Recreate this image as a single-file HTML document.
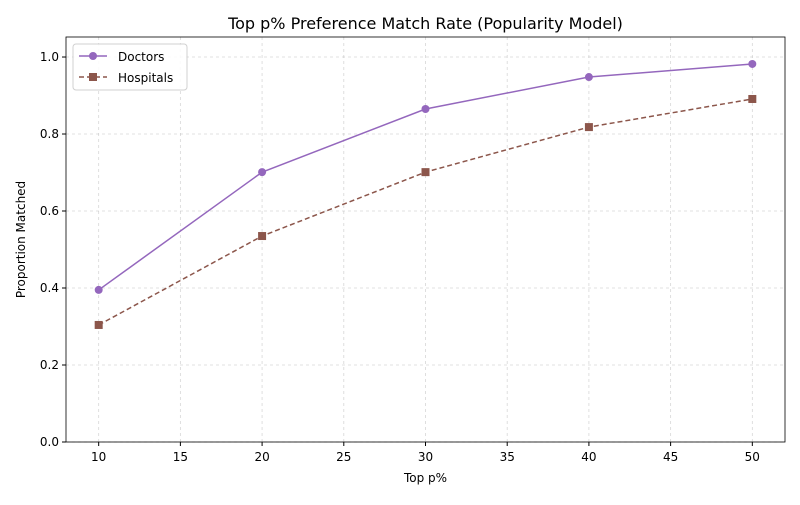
<!DOCTYPE html>
<html><head><meta charset="utf-8"><style>
body{margin:0;background:#fff;font-family:"Liberation Sans","DejaVu Sans",sans-serif}
svg text{font-family:"DejaVu Sans","Liberation Sans",sans-serif}
</style></head><body>
<svg id="chart" width="800" height="500" xmlns="http://www.w3.org/2000/svg"></svg>
<script>
const categories=[10,20,30,40,50];
const doctors=[0.395,0.701,0.865,0.948,0.982];
const hospitals=[0.304,0.535,0.701,0.818,0.891];
const xTicks=[10,15,20,25,30,35,40,45,50];
const yTicks=[0.0,0.2,0.4,0.6,0.8,1.0];
const L=66,R=785,T=37,B=442,xmin=8,xmax=52,ymin=0,ymax=1.052;
const sx=v=>L+(v-xmin)/(xmax-xmin)*(R-L);
const sy=v=>B-(v-ymin)/(ymax-ymin)*(B-T);
const svg=document.getElementById('chart');
const NS='http://www.w3.org/2000/svg';
function mk(tag,attrs,parent){const e=document.createElementNS(NS,tag);for(const k in attrs)e.setAttribute(k,attrs[k]);(parent||svg).appendChild(e);return e;}
function txt(s,attrs){const e=mk('text',attrs);e.textContent=s;return e;}
// grid
xTicks.forEach(v=>{const g=mk('line',{x1:sx(v),x2:sx(v),y1:T,y2:B,stroke:'#b0b0b0','stroke-width':0.8,'stroke-dasharray':'3,3',opacity:0.5});

});
yTicks.forEach(v=>{const g=mk('line',{x1:L,x2:R,y1:sy(v),y2:sy(v),stroke:'#b0b0b0','stroke-width':0.8,'stroke-dasharray':'3,3',opacity:0.5});

});
// ticks
xTicks.forEach(v=>{mk('line',{x1:sx(v),x2:sx(v),y1:B,y2:B+4,stroke:'#000'});
const t=txt(String(v),{x:sx(v),y:B+19,'text-anchor':'middle','font-size':12});

});
yTicks.forEach(v=>{mk('line',{x1:L-4,x2:L,y1:sy(v),y2:sy(v),stroke:'#000'});
const t=txt(v.toFixed(1),{x:L-7,y:sy(v)+4,'text-anchor':'end','font-size':12});

});
// series
function series(vals,color,dash,marker,name){
const pts=vals.map((v,i)=>sx(categories[i])+','+sy(v)).join(' ');
const pl=mk('polyline',{points:pts,fill:'none',stroke:color,'stroke-width':1.5,'stroke-dasharray':dash});


vals.forEach((v,i)=>{let m;
if(marker==='o')m=mk('circle',{cx:sx(categories[i]),cy:sy(v),r:4,fill:color});
else m=mk('rect',{x:sx(categories[i])-4,y:sy(v)-4,width:8,height:8,fill:color});

});}
series(doctors,'#9467bd','none','o','doctors');
series(hospitals,'#8c564b','5,3','s','hospitals');
// frame
const fr=mk('rect',{x:L,y:T,width:R-L,height:B-T,fill:'none',stroke:'#000','stroke-width':0.8});


// titles
let t=txt('Top p% Preference Match Rate (Popularity Model)',{x:(L+R)/2,y:29,'text-anchor':'middle','font-size':16});


t=txt('Top p%',{x:(L+R)/2,y:482,'text-anchor':'middle','font-size':12});


t=txt('Proportion Matched',{x:25,y:(T+B)/2,'text-anchor':'middle','font-size':12,transform:'rotate(-90 25 '+(T+B)/2+')'});


// legend
const lg=mk('rect',{x:73,y:44,width:114,height:46,rx:3,fill:'#fff',stroke:'#ccc','stroke-width':1,opacity:0.9});


mk('line',{x1:79,x2:107,y1:56,y2:56,stroke:'#9467bd','stroke-width':1.5});
mk('circle',{cx:93,cy:56,r:4,fill:'#9467bd'});
t=txt('Doctors',{x:118,y:61,'font-size':12});


mk('line',{x1:79,x2:107,y1:77,y2:77,stroke:'#8c564b','stroke-width':1.5,'stroke-dasharray':'5,3'});
mk('rect',{x:89,y:73,width:8,height:8,fill:'#8c564b'});
t=txt('Hospitals',{x:118,y:82,'font-size':12});


</script>
</body></html>
